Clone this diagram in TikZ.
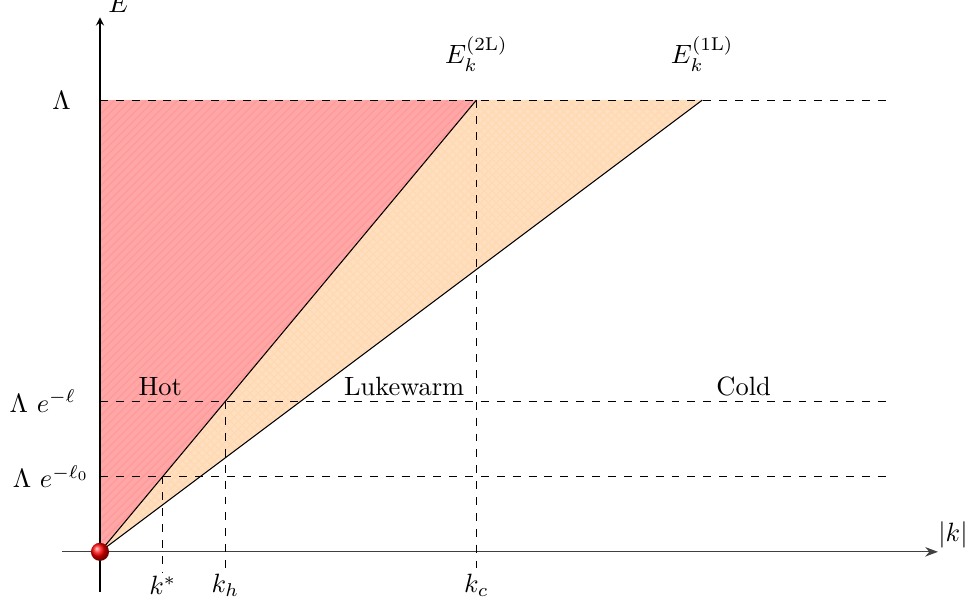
\documentclass[tikz,border=0pt]{standalone}
\usepackage{amssymb}
\usepackage{amsmath}
\usetikzlibrary{patterns,arrows.meta}

\begin{document}
\begin{tikzpicture}[>=stealth]
    \useasboundingbox (-1.328,-0.69) rectangle (11.53,7.33);
    \coordinate (O) at (0,0);
    \coordinate (L) at (0,6);
    \coordinate (Etwo) at (5,6);
    \coordinate (Eone) at (8,6);
    % regions
    \fill[orange!25] (O) -- (Etwo) -- (Eone) -- cycle;
    \fill[pattern=crosshatch, pattern color=orange!30] (O) -- (Etwo) -- (Eone) -- cycle;
    \fill[red!35] (O) -- (L) -- (Etwo) -- cycle;
    \fill[pattern=north east lines, pattern color=red!40] (O) -- (L) -- (Etwo) -- cycle;
    % axes
    \draw[->] (0,-0.53) -- (0,7.1);
    \node (Elab) at (0.25,7.28) {$E$};
    \draw[-{Stealth}, black!75] (-0.5,0) -- (11.13,0);
    \node (klab) at (11.33,0.23) {$|k|$};
    % levels
    \foreach \y/\lab/\xl in {6/$\Lambda$/-0.51, 2/$\Lambda~e^{-\ell}$/-0.76, 1/$\Lambda~e^{-\ell_0}$/-0.65} {
        \draw[dashed] (0,\y) -- (10.5,\y);
        \node at (\xl,\y) {\lab};
    }
    % momenta
    \foreach \x/\lab/\top in {0.8333/$k^*$/1, 1.6667/$k_h$/2, 5/$k_c$/6} {
        \draw[dashed] (\x,\top) -- (\x,-0.28);
        \node at (\x,-0.45) {\lab};
    }
    % dispersion lines
    \draw (O) -- (Etwo) node[above=0.25cm] (twoL) {$E_k^{(2\mathrm{L})}$};
    \draw (O) -- (Eone) node[above=0.25cm] (oneL) {$E_k^{(1\mathrm{L})}$};
    % region labels
    \node (hot) at (0.8,2.2) {Hot};
    \node (luke) at (4.04,2.2) {Lukewarm};
    \node (cold) at (8.55,2.2) {Cold};
    \shade[ball color=red] (O) circle (0.12);
\end{tikzpicture}
\end{document}
